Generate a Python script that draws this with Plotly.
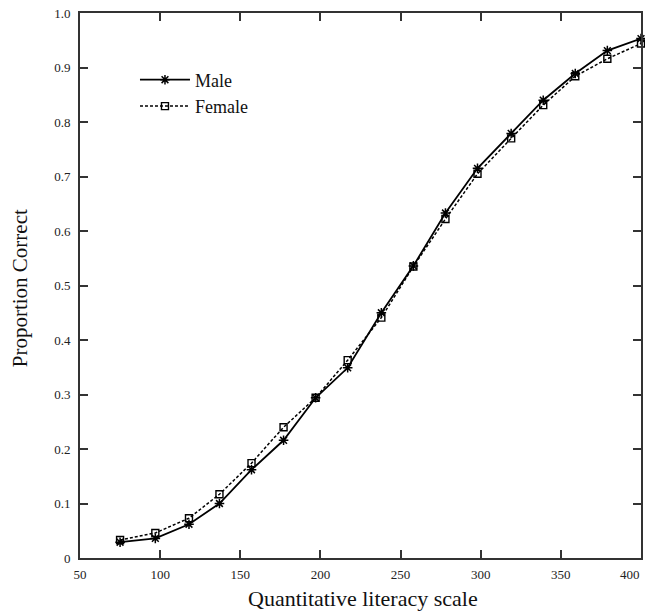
import plotly.graph_objects as go

scale = [75, 97, 118, 137, 157, 177, 197, 217, 238, 258, 278, 298, 319, 339, 359, 379, 400]
male = [0.029, 0.036, 0.062, 0.100, 0.162, 0.216, 0.294, 0.349, 0.450, 0.536, 0.633, 0.715, 0.779, 0.840, 0.889, 0.931, 0.953]
female = [0.033, 0.046, 0.073, 0.117, 0.174, 0.240, 0.294, 0.363, 0.441, 0.535, 0.622, 0.705, 0.770, 0.831, 0.884, 0.916, 0.944]

x_ticks = [50, 100, 150, 200, 250, 300, 350, 400]
x_tick_text = ["50", "100", "150", "200", "250", "300", "350", ""]
last_x_label = "400"
y_ticks = [0, 0.1, 0.2, 0.3, 0.4, 0.5, 0.6, 0.7, 0.8, 0.9, 1.0]
y_tick_text = ["0", "0.1", "0.2", "0.3", "0.4", "0.5", "0.6", "0.7", "0.8", "0.9", "1.0"]

font_family = "Liberation Serif, Times New Roman, serif"

fig = go.Figure()
fig.add_trace(go.Scatter(
    x=scale, y=male, name="Male", mode="lines+markers",
    line=dict(color="black", width=1.8),
    marker=dict(symbol="asterisk-open", size=8, color="black", line=dict(width=1.5, color="black")),
    cliponaxis=False,
))
fig.add_trace(go.Scatter(
    x=scale, y=female, name="Female", mode="lines+markers",
    line=dict(color="black", width=1.5, dash="3px,2px"),
    marker=dict(symbol="square-open", size=7, color="black", line=dict(width=1.4, color="black")),
    cliponaxis=False,
))

axis_common = dict(
    showgrid=False, zeroline=False, showline=True, linecolor="#333", linewidth=2,
    mirror="ticks", ticks="inside", ticklen=8, tickwidth=1.5, tickcolor="#333",
    tickfont=dict(family=font_family, size=13, color="#222"),
)

fig.update_layout(
    width=645, height=616,
    margin=dict(l=80, r=4, t=13, b=58),
    paper_bgcolor="white", plot_bgcolor="white",
    font=dict(family=font_family, color="#111"),
    xaxis=dict(range=[50, 400], tickvals=x_ticks, ticktext=x_tick_text, ticklabelstandoff=3,
               automargin=False, **axis_common),
    yaxis=dict(range=[0, 1.0], tickvals=y_ticks, ticktext=y_tick_text, ticklabelstandoff=5,
               automargin=False, **axis_common),
    legend=dict(x=0.098, y=0.911, xanchor="left", yanchor="top",
                bgcolor="rgba(0,0,0,0)", font=dict(family=font_family, size=18, color="#111"),
                itemwidth=50, tracegroupgap=0),
    showlegend=True,
    annotations=[
        dict(text=last_x_label, x=400, y=0, xref="x", yref="paper", xanchor="right", yanchor="top",
             xshift=1, yshift=-7, showarrow=False, font=dict(family=font_family, size=13, color="#222")),
        dict(text="Quantitative literacy scale", x=0.505, y=0, xref="paper", yref="paper",
             xanchor="center", yanchor="middle", yshift=-40, showarrow=False,
             font=dict(family=font_family, size=22, color="#111")),
        dict(text="Proportion Correct", x=0, y=0.495, xref="paper", yref="paper", textangle=-90,
             xanchor="center", yanchor="middle", xshift=-60, showarrow=False,
             font=dict(family=font_family, size=21, color="#111")),
    ],
)

fig.write_html("out.html", config={"displayModeBar": False},
               post_script="document.body.style.margin='0';document.body.style.overflow='hidden';")
